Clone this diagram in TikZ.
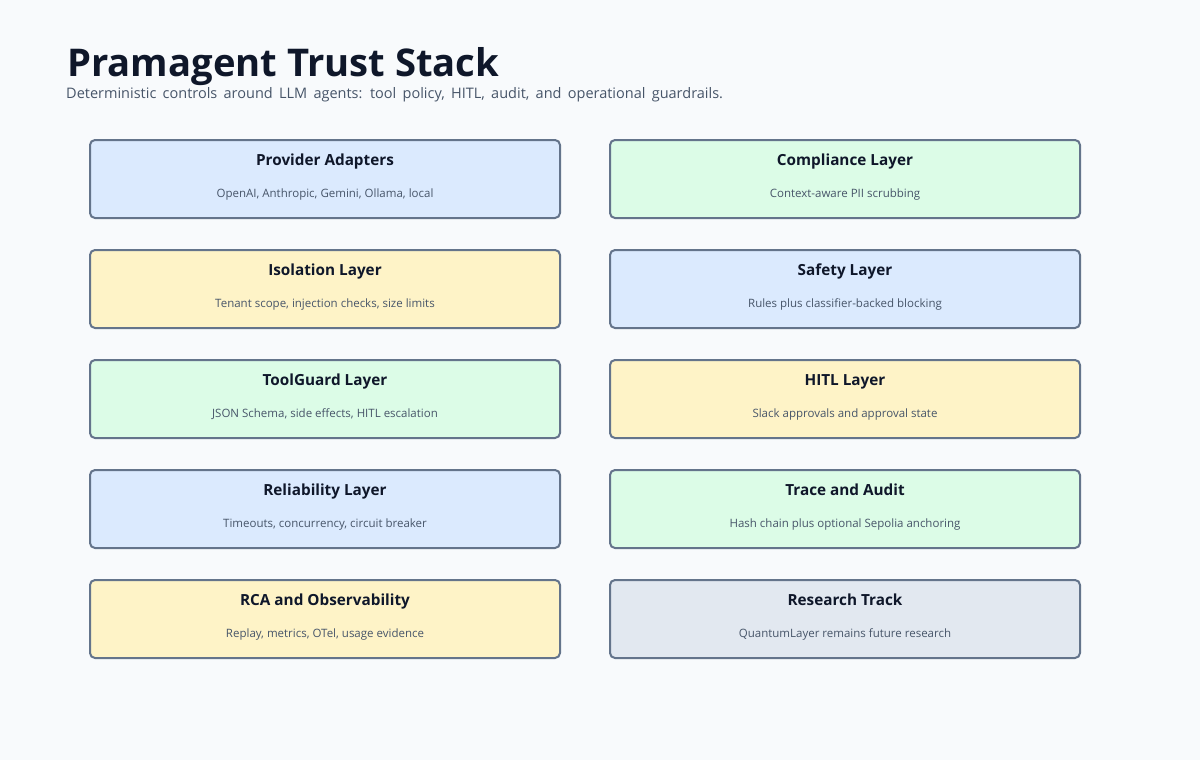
\documentclass[tikz,border=0pt]{standalone}
\usepackage{fontspec}
\setmainfont{Open Sans}
\definecolor{bg}{HTML}{F8FAFC}
\definecolor{ink}{HTML}{0F172A}
\definecolor{sub}{HTML}{475569}
\definecolor{edge}{HTML}{64748B}
\definecolor{cb}{HTML}{DBEAFE}
\definecolor{cg}{HTML}{DCFCE7}
\definecolor{cy}{HTML}{FEF3C7}
\definecolor{cs}{HTML}{E2E8F0}
\begin{document}
\begin{tikzpicture}[x=1pt,y=-1pt,
  box/.style={draw=edge,line width=2pt,rounded corners=5pt,minimum width=470pt,minimum height=78pt,inner sep=0pt},
  ttl/.style={font=\fontsize{15.3}{18}\selectfont\bfseries,text=ink},
  dsc/.style={font=\fontsize{11.5}{13}\selectfont,text=sub}]
\fill[bg] (0,0) rectangle (1200,760);
\useasboundingbox (0,0) rectangle (1200,760);
\node[anchor=base west,font=\fontsize{38.2}{44}\selectfont\bfseries,text=ink,inner sep=0] (title) at (67,77) {Pramagent Trust Stack};
\node[anchor=base west,font=\fontsize{14.5}{17}\selectfont,text=sub,inner sep=0] (subtitle) at (66,99) {\spaceskip=6.3pt Deterministic controls around LLM agents: tool policy, HITL, audit, and operational guardrails.};
\foreach \n/\x/\y/\c/\t/\d in {
 a/325/179/cb/Provider Adapters/{OpenAI, Anthropic, Gemini, Ollama, local},
 b/845/179/cg/Compliance Layer/Context-aware PII scrubbing,
 c/325/289/cy/Isolation Layer/{Tenant scope, injection checks, size limits},
 d/845/289/cb/Safety Layer/Rules plus classifier-backed blocking,
 e/325/399/cg/ToolGuard Layer/{JSON Schema, side effects, HITL escalation},
 f/845/399/cy/HITL Layer/Slack approvals and approval state,
 g/325/509/cb/Reliability Layer/{Timeouts, concurrency, circuit breaker},
 h/845/509/cg/Trace and Audit/Hash chain plus optional Sepolia anchoring,
 i/325/619/cy/RCA and Observability/{Replay, metrics, OTel, usage evidence},
 j/845/619/cs/Research Track/QuantumLayer remains future research}{
 \node[box,fill=\c] (\n) at (\x,\y) {};
 \node[ttl,anchor=base] (\n t) at (\x,\y-14) {\t};
 \node[dsc,anchor=base] (\n d) at (\x,\y+18) {\d};
}
\end{tikzpicture}
\end{document}
